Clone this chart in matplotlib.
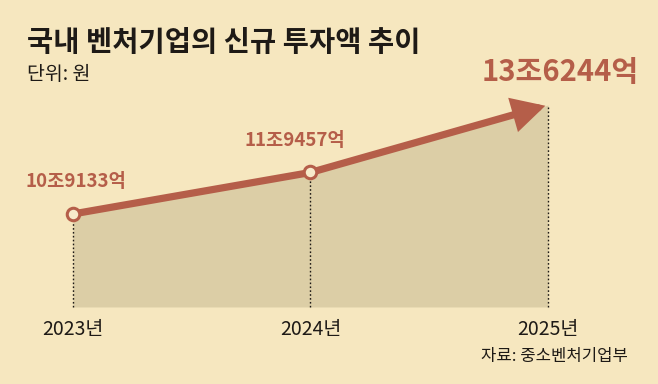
import numpy as np
import matplotlib.pyplot as plt
from matplotlib.patches import FancyArrowPatch

plt.rcParams['font.family'] = ['Noto Sans CJK KR', 'DejaVu Sans']

### Data (unit: 조 원)
years  = [2023, 2024, 2025]
values = [10.9133, 11.9457, 13.6244]
labels = ['10조9133억', '11조9457억', '13조6244억']
year_labels = ['2023년', '2024년', '2025년']

### Colours
bg_col   = '#F6E7BF'
fill_col = '#DCCEA6'
line_col = '#B55E49'
text_col = '#1E1A16'

fig = plt.figure(figsize=(6.58, 3.84), dpi=100, facecolor=bg_col)
ax = fig.add_axes([0, 0, 1, 1])
ax.set_facecolor(bg_col)
ax.set_xlim(2022.693, 2025.463)
ax.set_ylim(6.684, 16.236)
ax.axis('off')

base = 8.60

# shaded area under the line
ax.fill_between(years, values, base, color=fill_col, lw=0, zorder=1)

# dotted drop lines
ax.vlines(years, base, values, colors=text_col, linestyles=(0, (1.2, 1.6)),
          lw=1.0, zorder=2)

# line 2023 -> 2024
ax.plot(years[:2], values[:2], color=line_col, lw=5.2, solid_capstyle='butt', zorder=3)

# arrow 2024 -> 2025
arr = FancyArrowPatch((years[1], values[1]), (years[2], values[2]),
                      arrowstyle='-|>,head_length=1.6,head_width=0.85',
                      mutation_scale=10, color=line_col, lw=5.2,
                      shrinkA=0, shrinkB=2, joinstyle='miter', zorder=3)
ax.add_patch(arr)

# hollow markers
ax.plot(years[:2], values[:2], 'o', ms=9, mfc='#F7EBCB', mec=line_col, mew=2.2, zorder=4)

# value labels
offsets = [(3, 32), (-16, 32), (12, 33)]
sizes   = [13.5, 13.5, 21]
for x, v, lab, off, s in zip(years, values, labels, offsets, sizes):
    ax.annotate(lab, xy=(x, v), xytext=off, textcoords='offset pixels',
                ha='center', va='center', color=line_col, fontsize=s,
                fontweight='bold', zorder=5)

# year labels
for x, lab in zip(years, year_labels):
    ax.text(x, 1 - 330/384, lab, transform=ax.get_xaxis_transform(),
            ha='center', va='center', fontsize=14, color=text_col)

### Titles and source
fig.text(27/658, 1 - 43/384, '국내 벤처기업의 신규 투자액 추이', ha='left', va='center',
         fontsize=20.5, fontweight='bold', color=text_col)
fig.text(27/658, 1 - 75/384, '단위: 원', ha='left', va='center',
         fontsize=14, color=text_col)
fig.text(628/658, 1 - 357/384, '자료: 중소벤처기업부', ha='right', va='center',
         fontsize=12, color=text_col)

fig.savefig('out.png', dpi=100, facecolor=bg_col)
